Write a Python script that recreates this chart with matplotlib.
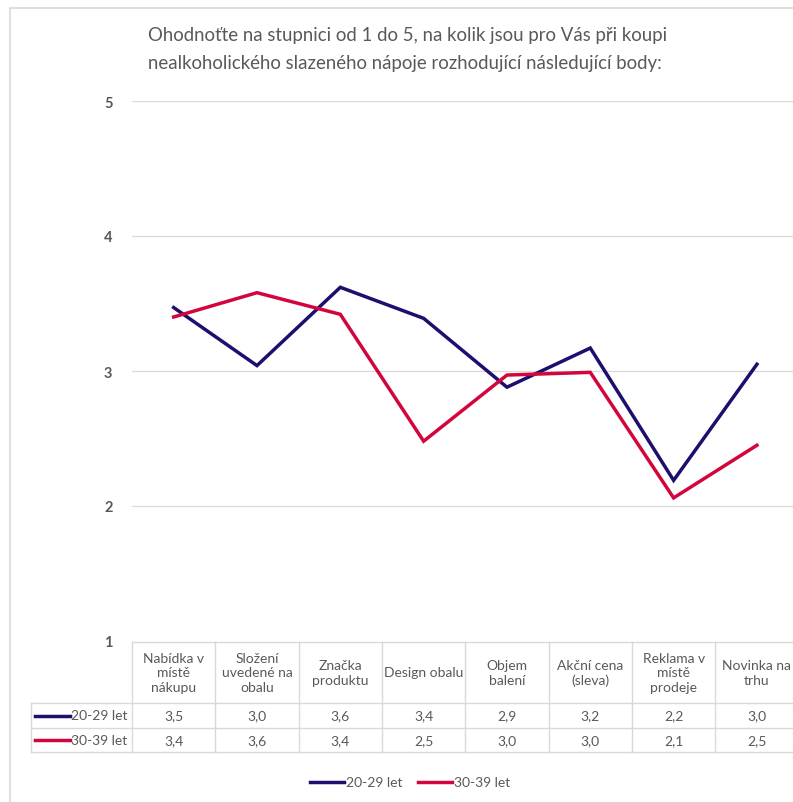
import matplotlib
matplotlib.use('Agg')
import matplotlib.pyplot as plt
from matplotlib.lines import Line2D
from matplotlib.patches import Rectangle

plt.rcParams['font.family'] = ['Lato', 'DejaVu Sans']

categories = ['Nabídka v\nmístě\nnákupu', 'Složení\nuvedené na\nobalu', 'Značka\nproduktu',
              'Design obalu', 'Objem\nbalení', 'Akční cena\n(sleva)', 'Reklama v\nmístě\nprodeje',
              'Novinka na\ntrhu']
series_names = ['20-29 let', '30-39 let']
vals_20 = [3.47, 3.04, 3.62, 3.39, 2.88, 3.17, 2.19, 3.05]
vals_30 = [3.40, 3.58, 3.42, 2.48, 2.97, 2.99, 2.06, 2.45]
labels_20 = ['3,5', '3,0', '3,6', '3,4', '2,9', '3,2', '2,2', '3,0']
labels_30 = ['3,4', '3,6', '3,4', '2,5', '3,0', '3,0', '2,1', '2,5']
yticks = [1, 2, 3, 4, 5]

colors = ['#1c0f6e', '#d2063c']
grid_c = '#d9d9d9'
text_c = '#595959'

W, H = 793, 803
fig = plt.figure(figsize=(W / 100, H / 100), dpi=100)

def fx(x):
    return x / W

def fy(y):
    return 1 - y / H

# plot area (pixel coords)
left, right, top, bottom = 132, 798.6, 102, 642
ax = fig.add_axes([fx(left), fy(bottom), fx(right - left), (bottom - top) / H])
n = len(categories)
xs = list(range(n))
ax.plot(xs, vals_20, color=colors[0], lw=2.5, solid_joinstyle='miter')
ax.plot(xs, vals_30, color=colors[1], lw=2.5, solid_joinstyle='miter')
ax.set_xlim(-0.5, n - 0.5)
ax.set_ylim(1, 5)
ax.set_yticks(yticks)
ax.set_xticks([])
for s in ax.spines.values():
    s.set_visible(False)
for t in yticks[1:]:
    ax.axhline(t, color=grid_c, lw=0.9, zorder=0)
ax.tick_params(axis='y', length=0, pad=14, labelsize=10.5, labelcolor=text_c)
for lab in ax.get_yticklabels():
    lab.set_fontweight('bold')

# chart border
fig.add_artist(Rectangle((fx(10), fy(900)), fx(900), 891 / H, transform=fig.transFigure,
                         fill=False, edgecolor=grid_c, lw=1.2))

# title
fig.text(fx(148), fy(35), 'Ohodnoťte na stupnici od 1 do 5, na kolik jsou pro Vás při koupi',
         fontsize=13.4, color=text_c, va='center', ha='left')
fig.text(fx(148), fy(64), 'nealkoholického slazeného nápoje rozhodující následující body:',
         fontsize=13.4, color=text_c, va='center', ha='left')

# data table
col_w = (right - left) / n
row_top, head_bot, r1_bot, r2_bot = 643, 704, 729, 753
tab_left = 31

def hline(x0, x1, y):
    fig.add_artist(Line2D([fx(x0), fx(x1)], [fy(y), fy(y)], transform=fig.transFigure,
                          color=grid_c, lw=1))

def vline(x, y0, y1):
    fig.add_artist(Line2D([fx(x), fx(x)], [fy(y0), fy(y1)], transform=fig.transFigure,
                          color=grid_c, lw=1))

hline(left, W + 10, row_top)
hline(tab_left, W + 10, head_bot)
hline(tab_left, W + 10, r1_bot)
hline(tab_left, W + 10, r2_bot)
vline(tab_left, head_bot, r2_bot)
for i in range(n + 1):
    vline(left + i * col_w, row_top, r2_bot)

for i, cat in enumerate(categories):
    cx = left + (i + 0.5) * col_w
    fig.text(fx(cx), fy((row_top + head_bot) / 2), cat, ha='center', va='center',
             fontsize=10, color=text_c, linespacing=1.25)
    fig.text(fx(cx), fy((head_bot + r1_bot) / 2), labels_20[i], ha='center', va='center',
             fontsize=10, color=text_c)
    fig.text(fx(cx), fy((r1_bot + r2_bot) / 2), labels_30[i], ha='center', va='center',
             fontsize=10, color=text_c)

for j, (name, c) in enumerate(zip(series_names, colors)):
    yc = [(head_bot + r1_bot) / 2, (r1_bot + r2_bot) / 2][j]
    fig.add_artist(Line2D([fx(35), fx(70)], [fy(yc), fy(yc)], transform=fig.transFigure,
                          color=c, lw=2.5))
    fig.text(fx(71), fy(yc), name, ha='left', va='center', fontsize=10, color=text_c)

# legend at the bottom
leg_y = 783
for x0, name, c in [(310, series_names[0], colors[0]), (418, series_names[1], colors[1])]:
    fig.add_artist(Line2D([fx(x0), fx(x0 + 34)], [fy(leg_y), fy(leg_y)], transform=fig.transFigure,
                          color=c, lw=2.5))
    fig.text(fx(x0 + 36), fy(leg_y), name, ha='left', va='center', fontsize=10, color=text_c)

fig.savefig('out.png', dpi=100)
